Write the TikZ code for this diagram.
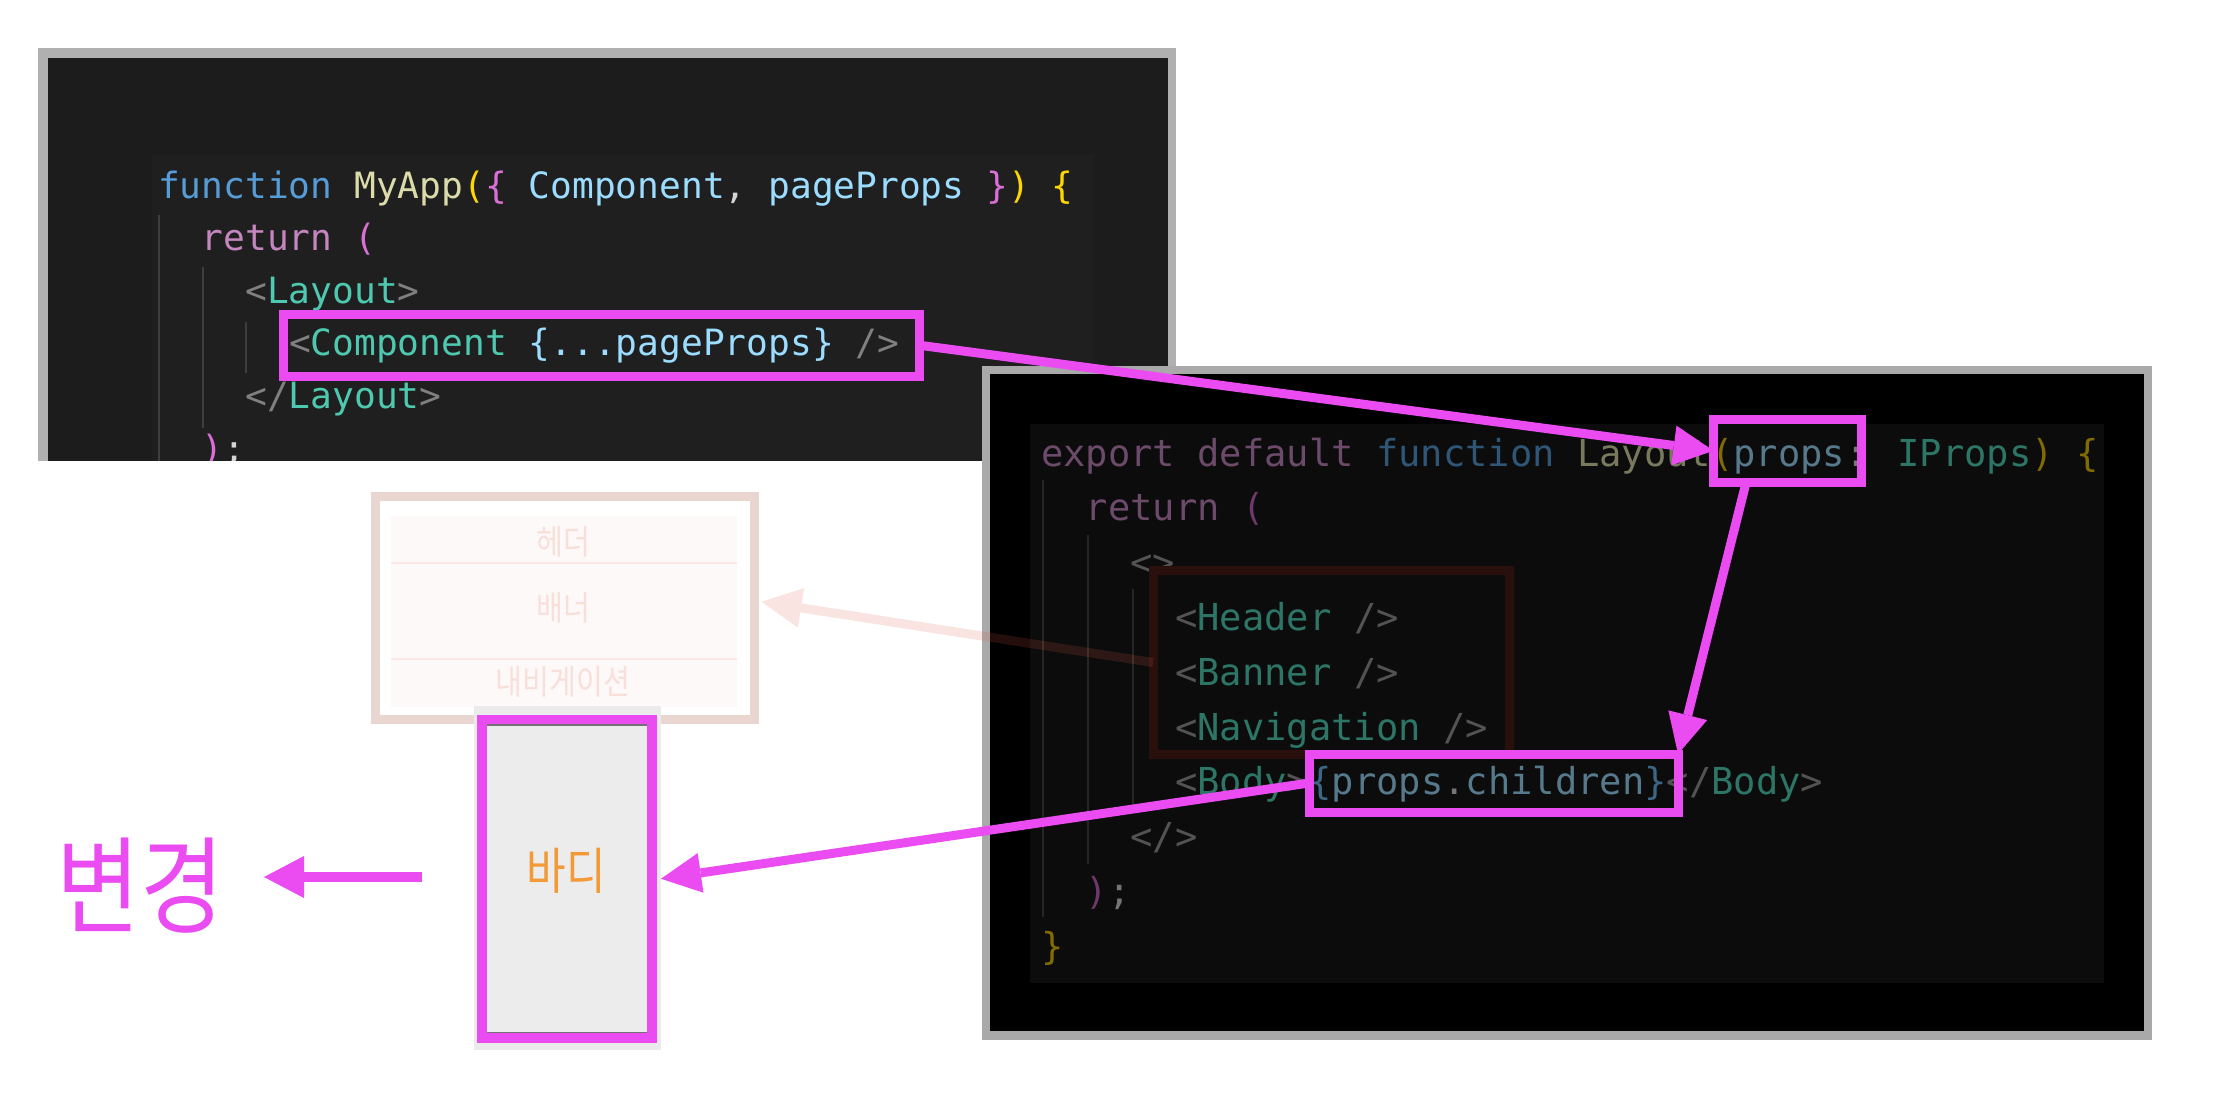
\documentclass[tikz,border=0pt]{standalone}
\usepackage{fontspec}
\usetikzlibrary{arrows.meta, calc}
\newfontfamily\codefont{DejaVu Sans Mono}
\newfontfamily\krfont[FakeStretch=0.86]{Noto Sans CJK KR}
% editor colours
\definecolor{kw}{HTML}{569CD6}
\definecolor{fnc}{HTML}{DCDCAA}
\definecolor{gold}{HTML}{FFD700}
\definecolor{pink}{HTML}{DA70D6}
\definecolor{blu}{HTML}{6FB8F0}
\definecolor{var}{HTML}{9CDCFE}
\definecolor{ctl}{HTML}{C586C0}
\definecolor{tag}{HTML}{4EC9B0}
\definecolor{pun}{HTML}{808080}
\definecolor{txt}{HTML}{D4D4D4}
\colorlet{dkw}{kw!55!black}
\colorlet{dfnc}{fnc!55!black}
\colorlet{dgold}{gold!50!black}
\colorlet{dpink}{pink!50!black}
\colorlet{dblu}{blu!55!black}
\colorlet{dvar}{var!55!black}
\colorlet{dctl}{ctl!55!black}
\colorlet{dtag}{tag!58!black}
\colorlet{dpun}{pun!65!black}
\colorlet{dtxt}{txt!55!black}
% frames and marks
\definecolor{lframe}{HTML}{B0B0B0}
\definecolor{lback}{HTML}{1C1C1C}
\definecolor{lcodebg}{HTML}{1F1F1F}
\definecolor{lguide}{HTML}{3E3E3E}
\definecolor{rframe}{HTML}{A9A9A9}
\definecolor{rcodebg}{HTML}{0C0C0C}
\definecolor{rguide}{HTML}{262626}
\definecolor{redline}{HTML}{2A100C}
\definecolor{hot}{HTML}{EA4CF2}
\definecolor{fade}{HTML}{E05A45}
\definecolor{wireline}{HTML}{EAD6D1}
\definecolor{wirerow}{HTML}{FDF9F8}
\definecolor{wiresep}{HTML}{FAE9E4}
\definecolor{wiretxt}{HTML}{F9DFD9}
\definecolor{bodyback}{HTML}{EBEBEB}
\definecolor{bodyfill}{HTML}{ECECEC}
\definecolor{bodytxt}{HTML}{F29A38}
\newcommand{\tcol}[2]{\textcolor{#1}{#2}}

\begin{document}
\begin{tikzpicture}[x=1pt, y=-1pt,
    lcode/.style={anchor=base west, inner sep=0pt, font=\codefont\fontsize{36.2}{40}\selectfont},
    rcode/.style={lcode, font=\codefont\fontsize{37.1}{40}\selectfont},
    hotbox/.style={draw=hot, line width=9pt, inner sep=0pt, outer sep=0pt},
    arr/.style={draw=hot, line width=9pt, -{Triangle[length=40pt, width=40pt, line width=0pt]}},
    guide/.style={line width=1.5pt},
    wiretext/.style={font=\krfont\fontsize{34}{34}\selectfont, text=wiretxt}]
		\fill[white] (0,0) rectangle (2214,1096);
		\useasboundingbox (0,0) rectangle (2214,1096);
		%
		% MyApp editor, cut at the bottom
		\begin{scope}
			\clip (38,48) rectangle (1176,460);
			\fill[lframe] (38,48) rectangle (1176,470);
			\fill[lback] (48,58) rectangle (1168,470);
			\fill[lcodebg] (152,154) rectangle (1094,470);
			\draw[guide, lguide] (159,215) -- (159,470);
			\draw[guide, lguide] (203,267) -- (203,428);
			\draw[guide, lguide] (246,322) -- (246,373);
			\node[lcode] (l1) at (158,198) {\tcol{kw}{function} \tcol{fnc}{MyApp}\tcol{gold}{(}\tcol{pink}{\{} \tcol{var}{Component}\tcol{txt}{,} \tcol{var}{pageProps} \tcol{pink}{\}}\tcol{gold}{)} \tcol{gold}{\{}};
			\node[lcode] (l2) at (201.6,250.6) {\tcol{ctl}{return} \tcol{pink}{(}};
			\node[lcode] (l3) at (245.2,303.2) {\tcol{pun}{<}\tcol{tag}{Layout}\tcol{pun}{>}};
			\node[lcode] (l4) at (288.8,355.8) {\tcol{pun}{<}\tcol{tag}{Component} \tcol{var}{\{...pageProps\}} \tcol{pun}{/>}};
			\node[lcode] (l5) at (245.2,408.4) {\tcol{pun}{</}\tcol{tag}{Layout}\tcol{pun}{>}};
			\node[lcode] (l6) at (201.6,461) {\tcol{pink}{)}\tcol{txt}{;}};
		\end{scope}
		\node[hotbox, minimum width=636pt, minimum height=62.5pt] (comp) at (601.5,345.25) {};
		%
		% Layout editor
		\fill[rframe] (982,366) rectangle (2152,1040);
		\fill[black] (990,374) rectangle (2144,1031);
		\fill[rcodebg] (1030,424) rectangle (2104,983);
		\draw[guide, rguide] (1043,480) -- (1043,917);
		\draw[guide, rguide] (1088,535) -- (1088,864);
		\draw[guide, rguide] (1133,589) -- (1133,811);
		\node[rcode] (r1) at (1041,466) {\tcol{dctl}{export} \tcol{dctl}{default} \tcol{dkw}{function} \tcol{dfnc}{Layout}\tcol{dgold}{(}\tcol{dvar}{props}\tcol{dtxt}{:} \tcol{dtag}{IProps}\tcol{dgold}{)} \tcol{dgold}{\{}};
		\node[rcode] (r2) at (1085.7,520.8) {\tcol{dctl}{return} \tcol{dpink}{(}};
		\node[rcode] (r3) at (1130.4,575.6) {\tcol{dpun}{<>}};
		\node[rcode] (r4) at (1175.1,630.4) {\tcol{dpun}{<}\tcol{dtag}{Header} \tcol{dpun}{/>}};
		\node[rcode] (r5) at (1175.1,685.2) {\tcol{dpun}{<}\tcol{dtag}{Banner} \tcol{dpun}{/>}};
		\node[rcode] (r6) at (1175.1,740) {\tcol{dpun}{<}\tcol{dtag}{Navigation} \tcol{dpun}{/>}};
		\node[rcode] (r7) at (1175.1,794.8) {\tcol{dpun}{<}\tcol{dtag}{Body}\tcol{dpun}{>}\tcol{dblu}{\{}\tcol{dvar}{props}\tcol{dtxt}{.}\tcol{dvar}{children}\tcol{dblu}{\}}\tcol{dpun}{</}\tcol{dtag}{Body}\tcol{dpun}{>}};
		\node[rcode] (r8) at (1130.4,849.6) {\tcol{dpun}{</>}};
		\node[rcode] (r9) at (1085.7,904.4) {\tcol{dpink}{)}\tcol{dtxt}{;}};
		\node[rcode] (r10) at (1041,959.2) {\tcol{dgold}{\}}};
		\node[draw=redline, line width=9pt, inner sep=0pt, outer sep=0pt, minimum width=356.5pt, minimum height=184pt] (redbox) at (1331.25,662.5) {};
		\node[hotbox, minimum width=148pt, minimum height=63.5pt] (props) at (1787.5,450.75) {};
		\node[hotbox, minimum width=369pt, minimum height=58pt] (kids) at (1493.5,783) {};
		%
		% faded page sketch
		\node[draw=wireline, fill=white, line width=9pt, inner sep=0pt, outer sep=0pt, minimum width=379pt, minimum height=223.5pt] (wire) at (565,607.75) {};
		\fill[wirerow] (391,516) rectangle (737,707);
		\draw[wiresep, line width=2pt] (391,563) -- (737,563);
		\draw[wiresep, line width=2pt] (391,659) -- (737,659);
		\node[wiretext] (header) at (563,542) {헤더};
		\node[wiretext] (banner) at (563,608) {배너};
		\node[wiretext] (nav) at (563,682) {내비게이션};
		%
		% body block
		\fill[bodyback] (474,706) rectangle (661,1050);
		\node[hotbox, line width=10pt, fill=bodyfill, minimum width=170pt, minimum height=318.5pt] (body) at (567,878.75) {};
		\draw[black!55, line width=1.5pt] ([xshift=5pt,yshift=-5.5pt]body.north west) -- ([xshift=-5pt,yshift=-5.5pt]body.north east);
		\draw[black!55, line width=1.5pt] ([xshift=5pt,yshift=5.5pt]body.south west) -- ([xshift=-5pt,yshift=5.5pt]body.south east);
		\node[font=\krfont\fontsize{50}{50}\selectfont, text=bodytxt] (bodytext) at (566,871) {바디};
		%
		% arrows
		\draw[arr] (comp.east) -- (props.west);
		\draw[arr] ($(props.south west)!.22!(props.south east)$) -- (kids.north east);
		\draw[arr] (kids.west) -- ([xshift=9pt]body.east);
		\draw[arr, draw=fade, opacity=.16] (redbox.west) -- ([xshift=7pt,yshift=6pt]wire.east);
		%
		\coordinate (chgtail) at (422,877);
		\coordinate (chghead) at (264,877);
		\draw[arr, line width=9.5pt, -{Triangle[length=40pt, width=42pt, line width=0pt]}] (chgtail) -- (chghead);
		\node[font=\krfont\fontsize{106}{106}\selectfont, text=hot] (change) at (140,886) {변경};
	\end{tikzpicture}
\end{document}
